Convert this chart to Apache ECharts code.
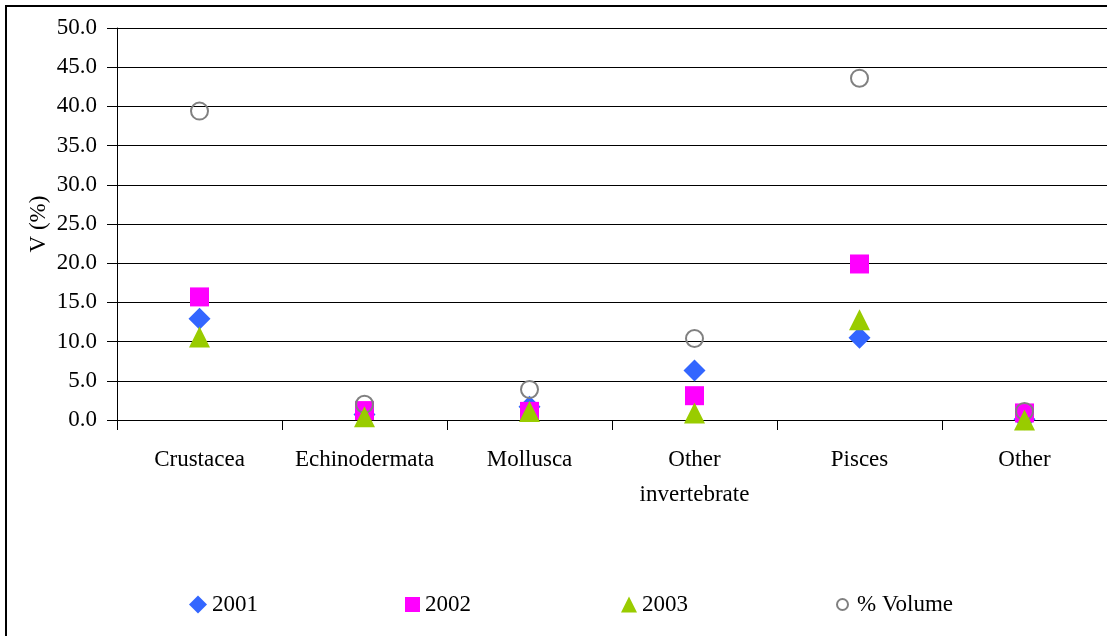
<!DOCTYPE html>
<html>
<head>
<meta charset="utf-8">
<style>
  html, body { margin: 0; padding: 0; background: #fff; }
  #chart { width: 1107px; height: 636px; }
</style>
<script src="https://cdn.jsdelivr.net/npm/echarts@6/dist/echarts.min.js"></script>
</head>
<body>
<div id="chart"></div>
<script>
// Diet composition by prey group: volume percentage per year
const categories = ['Crustacea', 'Echinodermata', 'Mollusca', 'Other\ninvertebrate', 'Pisces', 'Other'];
const v2001 = [12.9, 0.7, 1.7, 6.3, 10.5, 0.1];
const v2002 = [15.7, 1.2, 1.1, 3.1, 19.9, 0.9];
const v2003 = [10.6, 0.4, 1.1, 0.9, 12.8, 0.0];
const volume = [39.4, 2.0, 3.9, 10.4, 43.6, 1.1];
const yTicks = { min: 0, max: 50, interval: 5 };

const FONT = "'Liberation Serif', 'Times New Roman', serif";
const FS = 23;

const chart = echarts.init(document.getElementById('chart'), null, { renderer: 'canvas' });

function legendFor(name, left, w, h, extra) {
  return Object.assign({
    data: [name],
    left: left,
    top: 593,
    padding: 0,
    orient: 'horizontal',
    itemWidth: w,
    itemHeight: h,
    selectedMode: false,
    textStyle: { fontFamily: FONT, fontSize: FS, color: '#000' }
  }, extra || {});
}

chart.setOption({
  animation: false,
  backgroundColor: '#fff',
  graphic: [{
    type: 'rect',
    shape: { x: 6, y: 6, width: 1110, height: 640 },
    style: { fill: 'none', stroke: '#000', lineWidth: 2 },
    silent: true
  }],
  grid: { left: 117, top: 28, width: 993, height: 392, containLabel: false },
  legend: [
    legendFor('2001', 189, 18, 18),
    legendFor('2002', 405, 15, 15),
    legendFor('2003', 621, 16, 16),
    legendFor('% Volume', 836, 11, 11, {
      textStyle: { fontFamily: FONT, fontSize: FS, color: '#000', padding: [0, 0, 0, 4] }
    })
  ],
  xAxis: {
    type: 'category',
    data: categories,
    boundaryGap: true,
    axisLine: { lineStyle: { color: '#000', width: 1 } },
    axisTick: { show: true, length: 10, lineStyle: { color: '#000' } },
    axisLabel: {
      interval: 0,
      margin: 22,
      fontFamily: FONT,
      fontSize: FS,
      lineHeight: 35,
      color: '#000'
    },
    splitLine: { show: false }
  },
  yAxis: {
    type: 'value',
    min: yTicks.min,
    max: yTicks.max,
    interval: yTicks.interval,
    name: 'V (%)',
    nameLocation: 'middle',
    nameGap: 67,
    nameMoveOverlap: false,
    nameTextStyle: { fontFamily: FONT, fontSize: FS, color: '#000' },
    axisLine: { show: true, lineStyle: { color: '#000', width: 1 } },
    axisTick: { show: true, length: 10, lineStyle: { color: '#000' } },
    axisLabel: {
      margin: 20,
      fontFamily: FONT,
      fontSize: FS,
      color: '#000',
      formatter: v => v.toFixed(1)
    },
    splitLine: { show: true, lineStyle: { color: '#000', width: 1 } }
  },
  series: [
    {
      name: '2001', type: 'scatter', data: v2001, z: 2,
      symbol: 'diamond', symbolSize: [22, 22],
      itemStyle: { color: '#3366FF', opacity: 1 }
    },
    {
      name: '2002', type: 'scatter', data: v2002, z: 3,
      symbol: 'rect', symbolSize: [19, 19],
      itemStyle: { color: '#FF00FF', opacity: 1 }
    },
    {
      name: '% Volume', type: 'scatter', data: volume, z: 4,
      symbol: 'circle', symbolSize: 17,
      itemStyle: { color: 'rgba(255,255,255,0)', borderColor: '#808080', borderWidth: 2, opacity: 1 }
    },
    {
      name: '2003', type: 'scatter', data: v2003, z: 5,
      symbol: 'triangle', symbolSize: [21, 21],
      itemStyle: { color: '#99CC00', opacity: 1 }
    }
  ]
});
</script>
</body>
</html>
